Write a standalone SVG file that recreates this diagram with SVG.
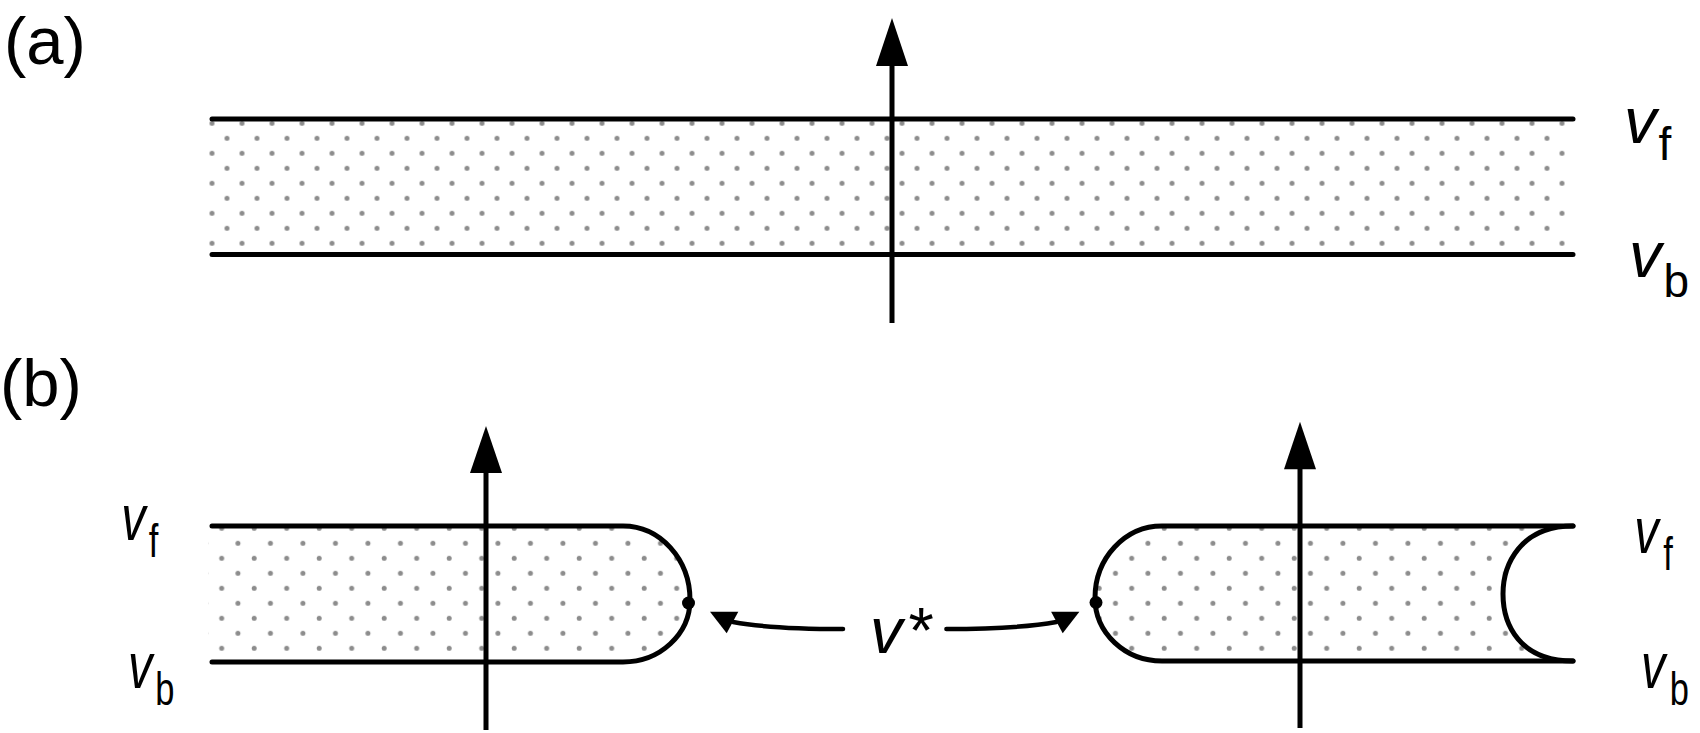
<svg xmlns="http://www.w3.org/2000/svg" width="1700" height="733" viewBox="0 0 1700 733">
<style>
text { font-family: "Liberation Sans", Arial, sans-serif; fill: #000; }
.lbl { font-size: 67px; }
.var { font-size: 65px; font-style: italic; }
.sub { font-size: 46px; font-style: normal; }
.edge { fill: none; stroke: #000; stroke-width: 5; stroke-linecap: round; }
.axis { fill: none; stroke: #000; stroke-width: 5; }
.head { fill: #000; stroke: none; }
.conn { fill: none; stroke: #000; stroke-width: 4.5; stroke-linecap: round; }
.pt { fill: #000; }
</style>
<defs>
<pattern id="dotsA" patternUnits="userSpaceOnUse" x="204.5" y="115.8" width="30" height="30">
<circle cx="7.5" cy="7.5" r="2.5" fill="#8c8c8c"/>
<circle cx="22.5" cy="22.5" r="2.5" fill="#8c8c8c"/>
</pattern>
<pattern id="dotsB" patternUnits="userSpaceOnUse" x="213.575" y="520.8" width="32.5" height="30">
<circle cx="8.125" cy="7.5" r="2.5" fill="#8c8c8c"/>
<circle cx="24.375" cy="22.5" r="2.5" fill="#8c8c8c"/>
</pattern>
</defs>
<rect width="1700" height="733" fill="#fff"/>

<g id="label-a"><text class="lbl" x="4" y="64">(a)</text></g>
<g id="label-b"><text class="lbl" x="0" y="406">(b)</text></g>

<g id="band-a">
<rect x="208" y="117" width="1366" height="137" fill="url(#dotsA)"/>
<line class="edge" x1="212" y1="119" x2="1573" y2="119"/>
<line class="edge" x1="212" y1="254.5" x2="1573" y2="254.5"/>
</g>
<g id="axis-a">
<line class="axis" x1="892" y1="323" x2="892" y2="60"/>
<polygon class="head" points="892,18 876,66 908,66"/>
</g>
<g id="labels-a">
<text class="var" x="1624" y="143">v<tspan class="sub" dx="2" dy="17">f</tspan></text>
<text class="var" x="1629" y="277">v<tspan class="sub" dx="2" dy="20">b</tspan></text>
</g>

<g id="band-b-left">
<path d="M208,526 H623 C660,526 690,559 690,600 C690,634 660,662 623,662 H208 Z" fill="url(#dotsB)"/>
<path class="edge" d="M212,526 H623 C660,526 690,559 690,600 C690,634 660,662 623,662 H212"/>
<circle class="pt" cx="688.5" cy="603" r="6.5"/>
</g>
<g id="axis-b-left">
<line class="axis" x1="486" y1="730" x2="486" y2="465"/>
<polygon class="head" points="486,426 470,473 502,473"/>
</g>
<g id="labels-b-left">
<text class="var" transform="translate(121.3,540) scale(0.75,1)" x="0" y="0">v<tspan class="sub" dx="4" dy="17">f</tspan></text>
<text class="var" transform="translate(128,688) scale(0.75,1)" x="0" y="0">v<tspan class="sub" dx="4" dy="17">b</tspan></text>
</g>

<g id="band-b-right">
<path d="M1573,526 H1162 C1125,526 1095,558 1095,598 C1095,633 1125,661 1162,661 H1573 C1520,661 1503,625 1503,594 C1503,565 1520,526 1573,526 Z" fill="url(#dotsB)"/>
<path class="edge" d="M1573,526 H1162 C1125,526 1095,558 1095,598 C1095,633 1125,661 1162,661 H1573"/>
<path class="edge" d="M1573,526 C1520,526 1503,565 1503,594 C1503,625 1520,661 1573,661"/>
<circle class="pt" cx="1096" cy="602.5" r="6.5"/>
</g>
<g id="axis-b-right">
<line class="axis" x1="1300" y1="728" x2="1300" y2="462"/>
<polygon class="head" points="1300,421.7 1284,469.3 1316,469.3"/>
</g>
<g id="labels-b-right">
<text class="var" transform="translate(1634.3,553.3) scale(0.75,1)" x="0" y="0">v<tspan class="sub" dx="6" dy="17">f</tspan></text>
<text class="var" transform="translate(1641,688) scale(0.75,1)" x="0" y="0">v<tspan class="sub" dx="6" dy="17">b</tspan></text>
</g>

<g id="vstar">
<text class="var" x="870" y="653">v<tspan font-style="normal" dx="6">*</tspan></text>
</g>

<g id="connectors">
<path class="conn" d="M843,629 C790,629 760,627 733,622"/>
<polygon class="head" points="710,611.7 738.3,611.7 726.7,633.3"/>
<path class="conn" d="M946.4,629 C999.4,629 1029.4,627 1056.4,622"/>
<polygon class="head" points="1079.4,611.7 1051.1,611.7 1062.7,633.3"/>
</g>
</svg>
